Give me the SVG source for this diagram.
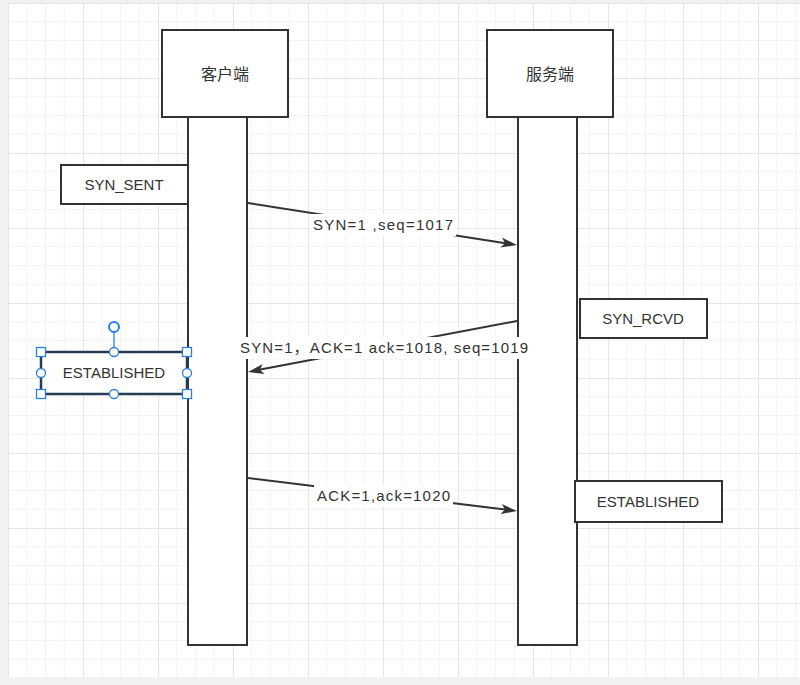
<svg xmlns="http://www.w3.org/2000/svg" width="800" height="685" viewBox="0 0 800 685">
  <style>
    .box { fill: #ffffff; stroke: #333333; stroke-width: 2; }
    .txt { font-family: "Liberation Sans", "Noto Sans CJK SC", sans-serif; font-size: 15px; fill: #333333; text-anchor: middle; }
    .cjk { font-size: 16px; }
    .edge { fill: none; stroke: #333333; stroke-width: 2; }
    .lbl { fill: #ffffff; }
    .h-sq { fill: #ffffff; stroke: #2a7fe0; stroke-width: 1.3; }
    .h-c { fill: #ffffff; stroke: #2a7fe0; stroke-width: 1.3; }
  </style>
  <defs>
    <pattern id="grid" patternUnits="userSpaceOnUse" x="8" y="3" width="75" height="75">
      <path d="M18.75 0V75M37.5 0V75M56.25 0V75M0 18.75H75M0 37.5H75M0 56.25H75" stroke="#f3f3f3" stroke-width="1" fill="none"/>
      <path d="M0.5 0V75M0 0.5H75" stroke="#e6e6e6" stroke-width="1" fill="none"/>
    </pattern>
    <marker id="arrow" viewBox="0 0 16 10" markerWidth="16" markerHeight="10" refX="6" refY="5" orient="auto" markerUnits="userSpaceOnUse">
      <path d="M0,0 L16,5 L0,10 L4,5 Z" fill="#333333"/>
    </marker>
  </defs>

  <rect x="0" y="0" width="800" height="685" fill="#f1f1f1"/>
  <rect x="8" y="3" width="792" height="674" fill="#ffffff"/>
  <rect x="8" y="3" width="792" height="674" fill="url(#grid)"/>

  <g id="client">
    <rect class="box" x="188" y="117" width="59" height="528"/>
    <rect class="box" x="162" y="30" width="126" height="87"/>
    <text class="txt cjk" x="225" y="80">客户端</text>
  </g>

  <g id="server">
    <rect class="box" x="518" y="117" width="59" height="528"/>
    <rect class="box" x="487" y="30" width="126" height="87"/>
    <text class="txt cjk" x="550" y="80">服务端</text>
  </g>

  <g id="syn-sent">
    <rect class="box" x="61" y="165" width="127" height="39"/>
    <text class="txt" x="124" y="190">SYN_SENT</text>
  </g>

  <g id="syn-rcvd">
    <rect class="box" x="580" y="299" width="127" height="39"/>
    <text class="txt" x="643" y="324">SYN_RCVD</text>
  </g>

  <g id="established-server">
    <rect class="box" x="575" y="481" width="147" height="41"/>
    <text class="txt" x="648" y="507">ESTABLISHED</text>
  </g>

  <g id="established-client">
    <rect x="41" y="352" width="146" height="42" fill="#ffffff" stroke="#283b52" stroke-width="2.5"/>
    <text class="txt" x="114" y="378">ESTABLISHED</text>
    <line x1="114" y1="332" x2="114" y2="348" stroke="#2a7fe0" stroke-width="1.3"/>
    <circle cx="114" cy="327" r="5" fill="#ffffff" stroke="#2a7fe0" stroke-width="2"/>
    <rect class="h-sq" x="36.5" y="347.5" width="9" height="9"/>
    <rect class="h-sq" x="182.5" y="347.5" width="9" height="9"/>
    <rect class="h-sq" x="36.5" y="389.5" width="9" height="9"/>
    <rect class="h-sq" x="182.5" y="389.5" width="9" height="9"/>
    <circle class="h-c" cx="114" cy="352" r="4.5"/>
    <circle class="h-c" cx="114" cy="394" r="4.5"/>
    <circle class="h-c" cx="41" cy="373" r="4.5"/>
    <circle class="h-c" cx="187" cy="373" r="4.5"/>
  </g>

  <g id="connectors">
    <path class="edge" d="M248,203 L507.1,243.5" marker-end="url(#arrow)"/>
    <rect class="lbl" x="310" y="214" width="146" height="22"/>
    <text class="txt" x="383" y="230" textLength="140" lengthAdjust="spacing">SYN=1 ,seq=1017</text>

    <path class="edge" d="M517,321 L257.8,370.1" marker-end="url(#arrow)"/>
    <rect class="lbl" x="237" y="337" width="294" height="22"/>
    <text class="txt" x="384" y="353" textLength="288" lengthAdjust="spacing">SYN=1，ACK=1 ack=1018, seq=1019</text>

    <path class="edge" d="M248,478 L507.1,509.8" marker-end="url(#arrow)"/>
    <rect class="lbl" x="314" y="485" width="139" height="22"/>
    <text class="txt" x="383.5" y="501" textLength="133" lengthAdjust="spacing">ACK=1,ack=1020</text>
  </g>
</svg>
